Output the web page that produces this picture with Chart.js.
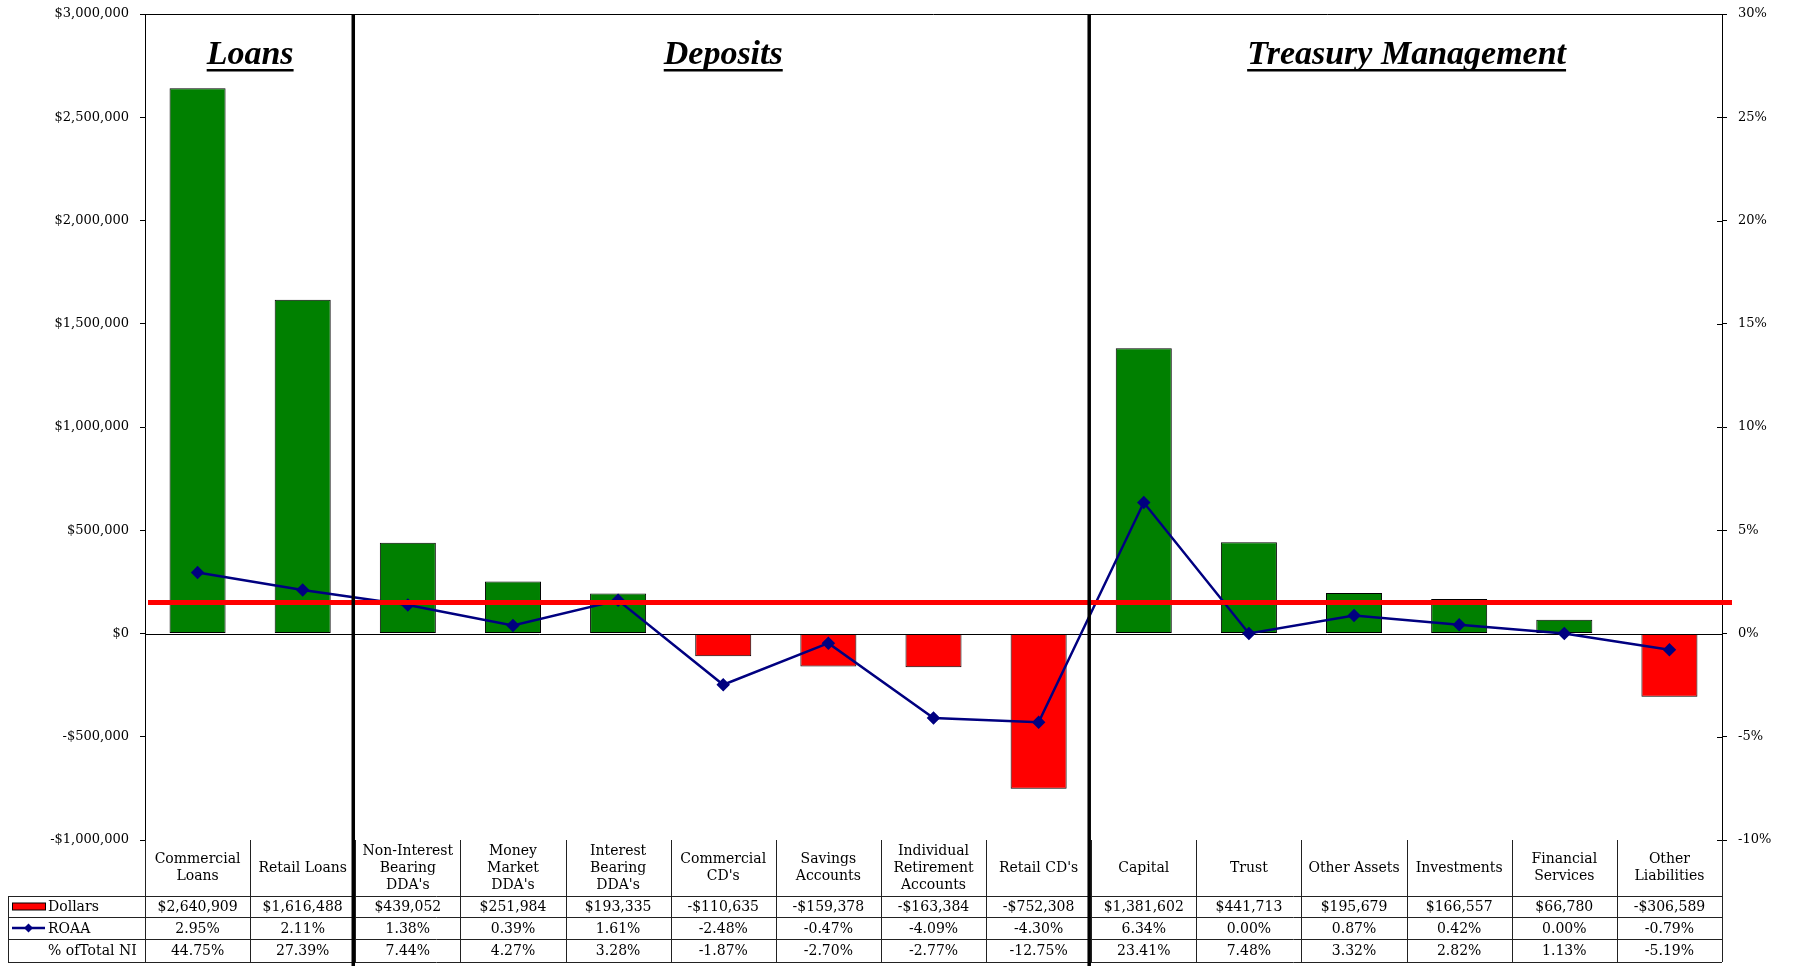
<!DOCTYPE html>
<html>
<head>
<meta charset="utf-8">
<title>Net Income by Line of Business</title>
<script src="https://cdn.jsdelivr.net/npm/chart.js@4/dist/chart.umd.min.js"></script>
<style>
  html, body { margin: 0; padding: 0; background: #fff; }
  #wrap { width: 1797px; height: 966px; position: relative; }
</style>
</head>
<body>
<div id="wrap"><canvas id="lobChart"></canvas></div>
<script>
const categories = [
  ["Commercial", "Loans"],
  ["Retail Loans"],
  ["Non-Interest", "Bearing", "DDA's"],
  ["Money", "Market", "DDA's"],
  ["Interest", "Bearing", "DDA's"],
  ["Commercial", "CD's"],
  ["Savings", "Accounts"],
  ["Individual", "Retirement", "Accounts"],
  ["Retail CD's"],
  ["Capital"],
  ["Trust"],
  ["Other Assets"],
  ["Investments"],
  ["Financial", "Services"],
  ["Other", "Liabilities"],
];
const dollars = [
  2640909, 1616488, 439052, 251984, 193335, -110635, -159378, -163384,
  -752308, 1381602, 441713, 195679, 166557, 66780, -306589,
];
const roaa = [
  2.95, 2.11, 1.38, 0.39, 1.61, -2.48, -0.47, -4.09, -4.30, 6.34, 0.0,
  0.87, 0.42, 0.0, -0.79,
];
const pctTotalNI = [
  44.75, 27.39, 7.44, 4.27, 3.28, -1.87, -2.7, -2.77, -12.75, 23.41, 7.48,
  3.32, 2.82, 1.13, -5.19,
];
const sections = [
  { title: "Loans", from: 0, to: 2 },
  { title: "Deposits", from: 2, to: 9 },
  { title: "Treasury Management", from: 9, to: 15 },
];
const targetRoaa = 1.5;

const FONT = "'DejaVu Serif', 'Liberation Serif', serif";
const GREEN = "#008000";
const RED = "#ff0000";
const NAVY = "#000080";

function fmtDollars(v) {
  if (v === 0) return "$0";
  const s = "$" + Math.abs(v).toLocaleString("en-US");
  return v < 0 ? "-" + s : s;
}

function fmtPct(v) {
  return v.toFixed(2) + "%";
}

function line(ctx, x1, y1, x2, y2) {
  ctx.beginPath();
  ctx.moveTo(x1, y1);
  ctx.lineTo(x2, y2);
  ctx.stroke();
}

// category edge i (0..n) in pixels
function edgeX(xScale, i) {
  const step = (xScale.right - xScale.left) / categories.length;
  return xScale.left + i * step;
}

// fixed axis width, no extra room for the end labels
function fitAxis(width) {
  return (scale) => {
    scale.width = width;
    scale.paddingTop = 0;
    scale.paddingBottom = 0;
  };
}

const framePlugin = {
  id: "frame",
  beforeDatasetsDraw(chart) {
    const { ctx, chartArea: a } = chart;
    const y0 = chart.scales.y.getPixelForValue(0);
    ctx.save();
    ctx.strokeStyle = "#000";
    ctx.lineWidth = 1;
    line(ctx, a.left, Math.round(y0) + 0.5, a.right, Math.round(y0) + 0.5);
    line(ctx, a.left, a.top + 0.5, a.right, a.top + 0.5);
    ctx.restore();
  },
  afterDatasetsDraw(chart) {
    const { ctx, chartArea: a } = chart;
    const y = chart.scales.y1.getPixelForValue(targetRoaa);
    ctx.save();
    ctx.strokeStyle = RED;
    ctx.lineWidth = 5;
    line(ctx, a.left + 3, y, a.right + 10, y);
    ctx.restore();
  },
  afterDraw(chart) {
    const { ctx, chartArea: a } = chart;
    const x = chart.scales.x;
    const y1 = chart.scales.y1;
    const n = categories.length;
    ctx.save();

    // inner half of the right axis ticks
    ctx.strokeStyle = "#000";
    ctx.lineWidth = 1;
    for (let v = -10; v <= 30; v += 5) {
      const ty = Math.round(y1.getPixelForValue(v)) + 0.5;
      line(ctx, a.right - 5, ty, a.right, ty);
    }

    // section titles
    ctx.fillStyle = "#000";
    ctx.font = "italic bold 34px 'Liberation Serif', serif";
    ctx.textAlign = "center";
    ctx.textBaseline = "alphabetic";
    sections.forEach((s) => {
      const cx = (edgeX(x, s.from) + edgeX(x, s.to)) / 2;
      const baseY = a.top + 50;
      ctx.fillText(s.title, cx, baseY);
      const w = ctx.measureText(s.title).width;
      ctx.fillRect(cx - w / 2, baseY + 5, w, 2.5);
    });

    // data table below the plot
    const rowTop = a.bottom;
    const rows = [rowTop + 56, rowTop + 77, rowTop + 99, rowTop + 122];
    const tableLeft = 8;
    ctx.strokeStyle = "#222";
    ctx.lineWidth = 1;
    rows.forEach((ry) => line(ctx, tableLeft, ry + 0.5, a.right, ry + 0.5));
    line(ctx, tableLeft + 0.5, rows[0], tableLeft + 0.5, rows[3]);
    for (let i = 0; i <= n; i++) {
      const ex = Math.round(edgeX(x, i)) + 0.5;
      line(ctx, ex, rowTop, ex, rows[3]);
    }

    ctx.font = "14px " + FONT;
    ctx.fillStyle = "#000";
    ctx.textAlign = "center";
    ctx.textBaseline = "middle";
    const lh = 17;
    for (let i = 0; i < n; i++) {
      const cx = (edgeX(x, i) + edgeX(x, i + 1)) / 2;
      const lines = categories[i];
      const midY = (rowTop + rows[0]) / 2;
      lines.forEach((t, k) => {
        ctx.fillText(t, cx, midY + (k - (lines.length - 1) / 2) * lh);
      });
      ctx.fillText(fmtDollars(dollars[i]), cx, (rows[0] + rows[1]) / 2 + 1);
      ctx.fillText(fmtPct(roaa[i]), cx, (rows[1] + rows[2]) / 2 + 1);
      ctx.fillText(fmtPct(pctTotalNI[i]), cx, (rows[2] + rows[3]) / 2 + 1);
    }

    // row keys
    ctx.textAlign = "left";
    const keyL = 12, keyR = 45, textX = 48;
    const r1 = (rows[0] + rows[1]) / 2;
    const r2 = (rows[1] + rows[2]) / 2;
    const r3 = (rows[2] + rows[3]) / 2;
    ctx.fillStyle = RED;
    ctx.fillRect(keyL, r1 - 3.5, keyR - keyL, 7);
    ctx.strokeStyle = "#000";
    ctx.strokeRect(keyL + 0.5, r1 - 3.5, keyR - keyL, 7);
    ctx.strokeStyle = NAVY;
    ctx.lineWidth = 2.5;
    line(ctx, keyL, r2, keyR, r2);
    ctx.fillStyle = NAVY;
    const dx = (keyL + keyR) / 2;
    ctx.beginPath();
    ctx.moveTo(dx, r2 - 4.5);
    ctx.lineTo(dx + 4.5, r2);
    ctx.lineTo(dx, r2 + 4.5);
    ctx.lineTo(dx - 4.5, r2);
    ctx.closePath();
    ctx.fill();
    ctx.fillStyle = "#000";
    ctx.fillText("Dollars", textX, r1 + 1);
    ctx.fillText("ROAA", textX, r2 + 1);
    ctx.fillText("% ofTotal NI", textX, r3 + 1);

    // thick section dividers
    ctx.strokeStyle = "#000";
    ctx.lineWidth = 3.5;
    [sections[1].from, sections[2].from].forEach((i) => {
      const ex = edgeX(x, i) - 2;
      line(ctx, ex, a.top, ex, chart.height);
    });
    ctx.restore();
  },
};

Chart.defaults.font.family = FONT;
Chart.defaults.font.size = 13;
Chart.defaults.color = "#000";

new Chart(document.getElementById("lobChart"), {
  type: "bar",
  data: {
    labels: categories.map((c) => c.join(" ")),
    datasets: [
      {
        type: "line",
        label: "ROAA",
        data: roaa,
        yAxisID: "y1",
        borderColor: NAVY,
        backgroundColor: NAVY,
        borderWidth: 2.5,
        tension: 0,
        pointStyle: "rectRot",
        pointRadius: 5,
        pointBackgroundColor: NAVY,
        pointBorderColor: NAVY,
        order: 0,
      },
      {
        label: "Dollars",
        data: dollars,
        yAxisID: "y",
        backgroundColor: dollars.map((v) => (v >= 0 ? GREEN : RED)),
        borderColor: "#000",
        borderWidth: 1,
        borderSkipped: false,
        barPercentage: 0.533,
        categoryPercentage: 1,
        order: 1,
      },
    ],
  },
  options: {
    responsive: true,
    maintainAspectRatio: false,
    animation: false,
    layout: {
      autoPadding: false,
      padding: { top: 14, bottom: 126, left: 0, right: 0 },
    },
    plugins: {
      legend: { display: false },
      tooltip: { enabled: false },
    },
    scales: {
      x: {
        display: false,
        offset: true,
      },
      y: {
        position: "left",
        min: -1000000,
        max: 3000000,
        ticks: {
          stepSize: 500000,
          padding: 11,
          callback: (v) => fmtDollars(v),
        },
        grid: {
          drawOnChartArea: false,
          drawTicks: true,
          tickLength: 5,
          color: "#000",
        },
        border: { display: true, color: "#000", width: 1 },
        afterFit: fitAxis(145),
      },
      y1: {
        position: "right",
        min: -10,
        max: 30,
        ticks: {
          stepSize: 5,
          padding: 11,
          callback: (v) => v + "%",
        },
        grid: {
          drawOnChartArea: false,
          drawTicks: true,
          tickLength: 5,
          color: "#000",
        },
        border: { display: true, color: "#000", width: 1 },
        afterFit: fitAxis(75),
      },
    },
  },
  plugins: [framePlugin],
});
</script>
</body>
</html>
